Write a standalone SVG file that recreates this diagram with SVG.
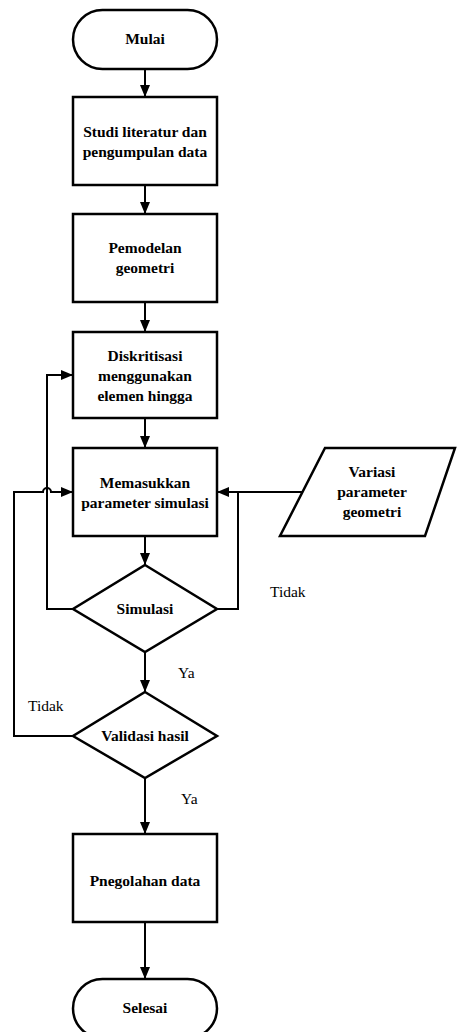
<svg xmlns="http://www.w3.org/2000/svg" width="457" height="1032" viewBox="0 0 457 1032">
<style>
.shape{fill:#fff;stroke:#000;stroke-width:2.5}
.c{fill:none;stroke:#000;stroke-width:2}
text{font-family:'Liberation Serif',serif !important;font-size:15.5px}
.t{font-weight:bold;text-anchor:middle}
</style>
<defs>
<marker id="ah" viewBox="0 0 12 10" refX="12" refY="5" markerWidth="12" markerHeight="10" markerUnits="userSpaceOnUse" orient="auto">
<path d="M0,0 L12,5 L0,10 Z" fill="#000"/>
</marker>
</defs>
<rect width="457" height="1032" fill="#fff"/>
<g id="connectors">
<path class="c" d="M145,69 V97" marker-end="url(#ah)"/>
<path class="c" d="M145,185 V214" marker-end="url(#ah)"/>
<path class="c" d="M145,302 V332" marker-end="url(#ah)"/>
<path class="c" d="M145,418 V448" marker-end="url(#ah)"/>
<path class="c" d="M145,536 V565" marker-end="url(#ah)"/>
<path class="c" d="M302,492 H217" marker-end="url(#ah)"/>
<path class="c" d="M217,609 H238 V492"/>
<path class="c" d="M73,609 H47 V375 H73" marker-end="url(#ah)"/>
<path class="c" d="M145,652 V692" marker-end="url(#ah)"/>
<path class="c" d="M73,736 H14 V492 H43 A4,4 0 0 1 51,492 H73" marker-end="url(#ah)"/>
<path class="c" d="M145,778 V834" marker-end="url(#ah)"/>
<path class="c" d="M145,922 V979" marker-end="url(#ah)"/>
</g>
<g id="mulai">
<rect class="shape" x="73" y="10" width="144" height="59" rx="29.5" ry="29.5"/>
<text class="t" x="145" y="44" style="font-family:'Liberation Serif',serif">Mulai</text>
</g>
<g id="studi">
<rect class="shape" x="73" y="97" width="144" height="88"/>
<text class="t" x="145" y="137" style="font-family:'Liberation Serif',serif">Studi literatur dan</text>
<text class="t" x="145" y="157" style="font-family:'Liberation Serif',serif">pengumpulan data</text>
</g>
<g id="pemodelan">
<rect class="shape" x="73" y="214" width="144" height="88"/>
<text class="t" x="145" y="253" style="font-family:'Liberation Serif',serif">Pemodelan</text>
<text class="t" x="145" y="273" style="font-family:'Liberation Serif',serif">geometri</text>
</g>
<g id="diskritisasi">
<rect class="shape" x="73" y="332" width="144" height="86"/>
<text class="t" x="145" y="361" style="font-family:'Liberation Serif',serif">Diskritisasi</text>
<text class="t" x="145" y="381" style="font-family:'Liberation Serif',serif">menggunakan</text>
<text class="t" x="145" y="401" style="font-family:'Liberation Serif',serif">elemen hingga</text>
</g>
<g id="memasukkan">
<rect class="shape" x="73" y="448" width="144" height="88"/>
<text class="t" x="145" y="488" style="font-family:'Liberation Serif',serif">Memasukkan</text>
<text class="t" x="145" y="508" style="font-family:'Liberation Serif',serif">parameter simulasi</text>
</g>
<g id="variasi">
<polygon class="shape" points="325,448 455,448 425,536 280,536"/>
<text class="t" x="372" y="477" style="font-family:'Liberation Serif',serif">Variasi</text>
<text class="t" x="372" y="497" style="font-family:'Liberation Serif',serif">parameter</text>
<text class="t" x="372" y="517" style="font-family:'Liberation Serif',serif">geometri</text>
</g>
<g id="simulasi">
<polygon class="shape" points="145,565 217,609 145,652 73,609"/>
<text class="t" x="145" y="614" style="font-family:'Liberation Serif',serif">Simulasi</text>
</g>
<g id="validasi">
<polygon class="shape" points="145,692 217,736 145,778 73,736"/>
<text class="t" x="145" y="741" style="font-family:'Liberation Serif',serif">Validasi hasil</text>
</g>
<g id="pengolahan">
<rect class="shape" x="73" y="834" width="144" height="88"/>
<text class="t" x="145" y="886" style="font-family:'Liberation Serif',serif">Pnegolahan data</text>
</g>
<g id="selesai">
<rect class="shape" x="73" y="979" width="144" height="59" rx="29.5" ry="29.5"/>
<text class="t" x="145" y="1013" style="font-family:'Liberation Serif',serif">Selesai</text>
</g>
<g id="labels">
<text x="270" y="597" style="font-family:'Liberation Serif',serif">Tidak</text>
<text x="178" y="678" style="font-family:'Liberation Serif',serif">Ya</text>
<text x="28" y="711" style="font-family:'Liberation Serif',serif">Tidak</text>
<text x="181" y="804" style="font-family:'Liberation Serif',serif">Ya</text>
</g>
</svg>
